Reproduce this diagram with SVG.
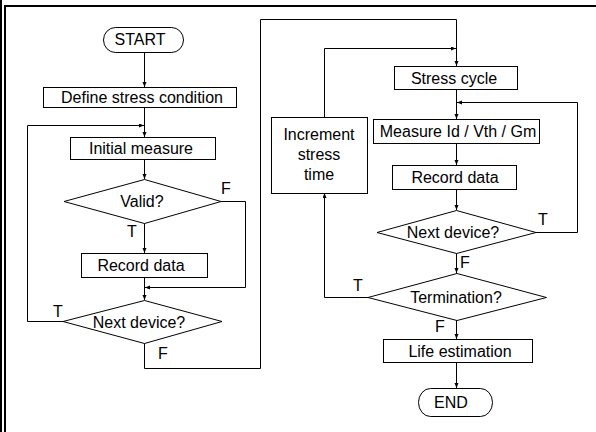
<svg xmlns="http://www.w3.org/2000/svg" width="596" height="432" viewBox="0 0 596 432">
<style>
.box{fill:#fff;stroke:#000;stroke-width:1}
.ln{fill:none;stroke:#000;stroke-width:1}
.fr{fill:none;stroke:#000;stroke-width:2}
text{font-family:"Liberation Sans",Arial,sans-serif;font-size:16px;fill:#000}
.c{text-anchor:middle}
</style>
<defs>
<marker id="ah" markerUnits="userSpaceOnUse" markerWidth="6" markerHeight="5" refX="5" refY="2" orient="auto">
<path d="M0,0 L5,2 L0,4 z" fill="#000"/>
</marker>
</defs>
<rect width="596" height="432" fill="#fff"/>
<g id="frame">
<line class="fr" x1="1" y1="0" x2="1" y2="432"/>
<line class="fr" x1="5" y1="6" x2="5" y2="432"/>
<line class="fr" x1="4" y1="6" x2="596" y2="6"/>
</g>
<g id="connectors" class="ln" marker-end="url(#ah)">
<path d="M144.5,52 V87"/>
<path d="M144.5,107 V137"/>
<path d="M63,321.5 H27.5 V125.5 H144"/>
<path d="M144.5,160 V179"/>
<path d="M144.5,223 V253"/>
<path d="M221,201.5 H245.5 V287.5 H145"/>
<path d="M144.5,277 V300"/>
<path d="M144.5,343 V368.5 H260.5 V19.5 H456.5 V66"/>
<path d="M456.5,89 V119"/>
<path d="M456.5,143 V165"/>
<path d="M456.5,189 V210"/>
<path d="M536,232.5 H577.5 V102.5 H457"/>
<path d="M456.5,253 V273"/>
<path d="M368,297.5 H324.5 V193"/>
<path d="M324.5,117 V48.5 H456"/>
<path d="M456.5,320 V339"/>
<path d="M456.5,362 V388"/>
</g>
<g id="start">
<rect class="box" x="103.5" y="27.5" width="80" height="25" rx="12" ry="12.5"/>
<text class="c" x="140" y="45">START</text>
</g>
<g id="define">
<rect class="box" x="43.5" y="87.5" width="193" height="20"/>
<text class="c" x="142" y="103">Define stress condition</text>
</g>
<g id="initial">
<rect class="box" x="70.5" y="137.5" width="145" height="22"/>
<text class="c" x="141" y="154">Initial measure</text>
</g>
<g id="valid">
<polygon class="box" points="144.5,179.5 221,201.5 144.5,223.5 64,201.5"/>
<text class="c" x="142" y="207">Valid?</text>
</g>
<g id="record1">
<rect class="box" x="81.5" y="253.5" width="126" height="24"/>
<text class="c" x="141" y="271">Record data</text>
</g>
<g id="next1">
<polygon class="box" points="144.5,300.5 222,321.5 144.5,343.5 63,321.5"/>
<text class="c" x="139" y="328">Next device?</text>
</g>
<g id="stress">
<rect class="box" x="394.5" y="66.5" width="123" height="23"/>
<text class="c" x="454" y="84">Stress cycle</text>
</g>
<g id="increment">
<rect class="box" x="271.5" y="117.5" width="96" height="76"/>
<text class="c" x="319" y="140">Increment</text>
<text class="c" x="319" y="160">stress</text>
<text class="c" x="319" y="180">time</text>
</g>
<g id="measure">
<rect class="box" x="373.5" y="119.5" width="166" height="24"/>
<text class="c" x="458" y="137">Measure Id / Vth / Gm</text>
</g>
<g id="record2">
<rect class="box" x="392.5" y="165.5" width="124" height="24"/>
<text class="c" x="455" y="183">Record data</text>
</g>
<g id="next2">
<polygon class="box" points="456.5,210.5 536,232.5 456.5,253.5 377,232.5"/>
<text class="c" x="453" y="238">Next device?</text>
</g>
<g id="termination">
<polygon class="box" points="457,273.5 546.5,297.5 457,320.5 368,297.5"/>
<text class="c" x="456" y="303">Termination?</text>
</g>
<g id="life">
<rect class="box" x="383.5" y="339.5" width="149" height="23"/>
<text class="c" x="460" y="357">Life estimation</text>
</g>
<g id="end">
<rect class="box" x="418.5" y="388.5" width="74" height="28" rx="12" ry="14"/>
<text class="c" x="451" y="408">END</text>
</g>
<g id="labels">
<text x="221" y="194">F</text>
<text x="127" y="237">T</text>
<text x="53" y="317">T</text>
<text x="158" y="359">F</text>
<text x="538" y="225">T</text>
<text x="460" y="268">F</text>
<text x="353" y="291">T</text>
<text x="435" y="332">F</text>
</g>
</svg>
